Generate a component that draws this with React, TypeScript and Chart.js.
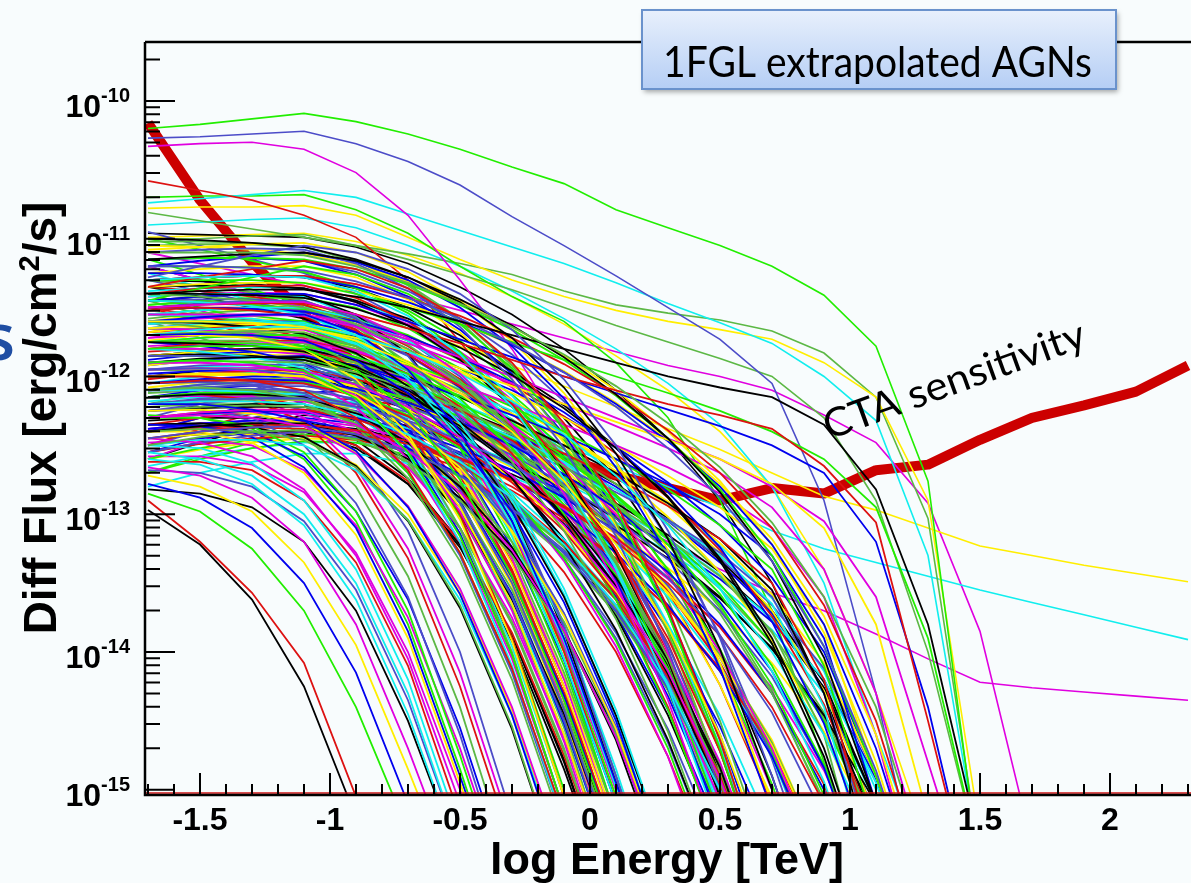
import React, { useEffect, useRef } from 'react';
import { Chart, registerables } from 'chart.js';
Chart.register(...registerables);

// log Energy [TeV] grid on which every spectrum is sampled
const xGrid = [-1.7, -1.5, -1.3, -1.1, -0.9, -0.7, -0.5, -0.3, -0.1, 0.1, 0.3, 0.5, 0.7, 0.9, 1.1, 1.3, 1.5, 1.7, 1.9, 2.1, 2.3];

// CTA sensitivity, log10 flux
const ctaSensitivity = [-10.16, -10.72, -11.17, -11.55, -11.92, -12.17, -12.35, -12.46, -12.59, -12.72, -12.81, -12.9, -12.81, -12.85, -12.68, -12.64, -12.46, -12.3, -12.21, -12.11, -11.92];

// extrapolated AGN spectra (log10 flux per grid point)
const spectraLowFlux = [
  [-12.97, -13.22, -13.62, -14.25, -15.2],
  [-12.9, -13.2, -13.57, -14.08, -15.05],
  [-12.85, -12.98, -13.25, -13.7, -14.4, -15.3],
  [-12.78, -12.88, -13.1, -13.5, -14.15, -15.1],
  [-12.72, -12.8, -12.98, -13.35, -13.95, -14.85, -15.8],
  [-12.66, -12.72, -12.88, -13.2, -13.8, -14.7, -15.7],
  [-12.6, -12.64, -12.78, -13.08, -13.62, -14.45, -15.5],
  [-12.55, -12.6, -12.72, -13.0, -13.5, -14.3, -15.4],
  [-12.5, -12.52, -12.63, -12.9, -13.4, -14.2, -15.3],
  [-12.45, -12.48, -12.58, -12.82, -13.3, -14.05, -15.1],
  [-12.4, -12.4, -12.48, -12.7, -13.15, -13.9, -14.95, -16],
  [-12.35, -12.36, -12.44, -12.66, -13.1, -13.85, -14.9, -16],
  [-12.3, -12.3, -12.36, -12.55, -12.98, -13.7, -14.75, -15.9],
  [-12.62, -12.62, -12.68, -12.9, -13.35, -14.1, -15.2],
  [-12.82, -12.85, -12.95, -13.2, -13.7, -14.5, -15.5],
  [-12.25, -12.24, -12.3, -12.5, -12.92, -13.6, -14.6, -15.8],
  [-12.2, -12.2, -12.25, -12.42, -12.8, -13.45, -14.4, -15.6],
  [-12.48, -12.46, -12.5, -12.68, -13.08, -13.75, -14.7, -15.8],
  [-12.38, -12.36, -12.4, -12.58, -12.98, -13.62, -14.55, -15.7],
  [-12.15, -12.13, -12.17, -12.33, -12.7, -13.32, -14.25, -15.4],
  [-12.68, -12.7, -12.8, -13.05, -13.55, -14.35, -15.4],
  [-12.1, -12.1, -12.14, -12.3, -12.66, -13.25, -14.15, -15.3],
  [-12.28, -12.3, -12.38, -12.6, -13.05, -13.8, -14.85, -16],
  [-12.05, -12.03, -12.06, -12.2, -12.55, -13.12, -14.0, -15.2],
  [-12.58, -12.58, -12.64, -12.84, -13.28, -14.0, -15.0, -16],
];

const spectraEarlyCut = [
  [-12.0, -12.0, -12.03, -12.1, -12.3, -12.68, -13.28, -14.12, -15.2],
  [-11.9, -11.88, -11.9, -11.96, -12.16, -12.55, -13.16, -14.02, -15.15],
  [-12.2, -12.2, -12.24, -12.32, -12.54, -12.95, -13.58, -14.46, -15.6],
  [-11.7, -11.7, -11.72, -11.8, -12.02, -12.42, -13.04, -13.92, -15.05],
  [-12.3, -12.28, -12.3, -12.36, -12.56, -12.94, -13.54, -14.4, -15.5],
  [-11.8, -11.82, -11.86, -11.94, -12.16, -12.56, -13.2, -14.1, -15.25],
  [-12.1, -12.08, -12.1, -12.16, -12.36, -12.74, -13.34, -14.2, -15.3],
  [-12.4, -12.38, -12.4, -12.46, -12.66, -13.04, -13.66, -14.54, -15.7],
  [-11.6, -11.64, -11.7, -11.8, -12.04, -12.46, -13.1, -14.0, -15.15],
  [-12.5, -12.46, -12.46, -12.5, -12.68, -13.04, -13.62, -14.46, -15.55],
  [-11.95, -11.94, -11.96, -12.02, -12.22, -12.6, -13.2, -14.05, -15.15],
  [-12.25, -12.24, -12.27, -12.34, -12.55, -12.94, -13.55, -14.42, -15.55],
  [-11.75, -11.78, -11.82, -11.9, -12.12, -12.52, -13.14, -14.02, -15.15],
  [-12.15, -12.12, -12.12, -12.16, -12.34, -12.7, -13.28, -14.12, -15.2],
  [-11.5, -11.56, -11.63, -11.72, -11.95, -12.36, -13.0, -13.9, -15.05],
  [-12.35, -12.34, -12.37, -12.44, -12.65, -13.05, -13.68, -14.56, -15.7],
  [-12.05, -12.04, -12.06, -12.12, -12.32, -12.7, -13.3, -14.15, -15.25],
  [-11.85, -11.84, -11.86, -11.92, -12.12, -12.5, -13.1, -13.96, -15.05],
  [-12.45, -12.42, -12.42, -12.46, -12.64, -13.0, -13.58, -14.42, -15.5],
  [-11.65, -11.66, -11.7, -11.78, -12.0, -12.4, -13.02, -13.9, -15.0],
];

const spectraMid = [
  [-11.8, -11.78, -11.78, -11.8, -11.95, -12.25, -12.75, -13.45, -14.35, -15.4],
  [-11.6, -11.57, -11.55, -11.55, -11.68, -11.95, -12.4, -13.05, -13.9, -14.95, -16],
  [-12.0, -11.98, -11.98, -12.0, -12.15, -12.45, -12.95, -13.65, -14.6, -15.7],
  [-11.9, -11.9, -11.92, -11.97, -12.14, -12.46, -12.98, -13.7, -14.65, -15.8],
  [-11.7, -11.66, -11.64, -11.64, -11.76, -12.02, -12.45, -13.08, -13.92, -14.98, -16],
  [-12.2, -12.18, -12.18, -12.2, -12.34, -12.62, -13.1, -13.8, -14.72, -15.8],
  [-11.5, -11.47, -11.45, -11.45, -11.58, -11.85, -12.3, -12.95, -13.82, -14.9, -16],
  [-12.1, -12.06, -12.04, -12.05, -12.18, -12.46, -12.92, -13.6, -14.5, -15.6],
  [-11.95, -11.92, -11.91, -11.92, -12.06, -12.35, -12.82, -13.5, -14.42, -15.5],
  [-11.75, -11.74, -11.74, -11.76, -11.9, -12.18, -12.62, -13.28, -14.15, -15.2],
  [-11.65, -11.62, -11.6, -11.61, -11.74, -12.0, -12.42, -13.02, -13.82, -14.85, -16],
  [-12.3, -12.27, -12.26, -12.27, -12.4, -12.66, -13.1, -13.75, -14.62, -15.7],
  [-11.85, -11.82, -11.81, -11.82, -11.96, -12.24, -12.7, -13.36, -14.25, -15.3],
  [-12.05, -12.02, -12.0, -12.0, -12.12, -12.38, -12.82, -13.46, -14.32, -15.4],
  [-11.55, -11.55, -11.56, -11.6, -11.75, -12.05, -12.52, -13.2, -14.1, -15.2],
  [-12.4, -12.38, -12.37, -12.38, -12.5, -12.76, -13.2, -13.86, -14.75, -15.8],
  [-11.45, -11.42, -11.4, -11.41, -11.55, -11.84, -12.3, -12.96, -13.85, -14.95, -16],
  [-12.15, -12.12, -12.1, -12.1, -12.22, -12.48, -12.92, -13.55, -14.4, -15.45],
  [-11.72, -11.68, -11.66, -11.66, -11.78, -12.04, -12.48, -13.1, -13.95, -15.0, -16],
  [-11.98, -11.96, -11.96, -11.98, -12.12, -12.42, -12.9, -13.6, -14.52, -15.6],
  [-12.25, -12.22, -12.2, -12.2, -12.32, -12.58, -13.0, -13.62, -14.45, -15.5],
  [-11.62, -11.6, -11.6, -11.62, -11.76, -12.04, -12.5, -13.16, -14.05, -15.1],
  [-11.88, -11.84, -11.82, -11.82, -11.94, -12.2, -12.62, -13.24, -14.06, -15.1],
  [-12.35, -12.34, -12.34, -12.36, -12.5, -12.78, -13.24, -13.92, -14.85, -15.9],
  [-11.42, -11.4, -11.4, -11.42, -11.56, -11.85, -12.32, -13.0, -13.9, -15.0, -16],
  [-12.02, -11.98, -11.96, -11.96, -12.08, -12.34, -12.78, -13.42, -14.3, -15.35],
  [-11.78, -11.76, -11.76, -11.78, -11.92, -12.2, -12.66, -13.32, -14.2, -15.3],
  [-12.45, -12.42, -12.4, -12.4, -12.52, -12.78, -13.22, -13.88, -14.78, -15.9],
  [-11.68, -11.64, -11.62, -11.62, -11.74, -12.0, -12.44, -13.08, -13.94, -15.0, -16],
  [-12.12, -12.1, -12.1, -12.12, -12.26, -12.54, -13.0, -13.68, -14.6, -15.7],
  [-11.52, -11.5, -11.5, -11.52, -11.66, -11.95, -12.42, -13.1, -14.0, -15.1],
  [-11.92, -11.88, -11.86, -11.86, -11.98, -12.24, -12.68, -13.32, -14.18, -15.25],
  [-12.22, -12.2, -12.2, -12.22, -12.36, -12.64, -13.1, -13.78, -14.7, -15.8],
  [-11.82, -11.8, -11.8, -11.82, -11.96, -12.25, -12.72, -13.4, -14.3, -15.4],
  [-12.08, -12.04, -12.02, -12.02, -12.14, -12.4, -12.84, -13.48, -14.35, -15.4],
  [-11.58, -11.54, -11.52, -11.52, -11.64, -11.9, -12.34, -12.98, -13.84, -14.9, -16],
  [-12.32, -12.3, -12.3, -12.32, -12.46, -12.74, -13.2, -13.88, -14.8, -15.9],
  [-11.48, -11.46, -11.46, -11.48, -11.62, -11.92, -12.4, -13.08, -13.98, -15.05],
  [-11.74, -11.7, -11.68, -11.68, -11.8, -12.06, -12.5, -13.14, -14.0, -15.05],
  [-12.18, -12.15, -12.14, -12.15, -12.28, -12.55, -13.0, -13.65, -14.52, -15.6],
  [-11.3, -11.38, -11.46, -11.54, -11.7, -11.95, -12.35, -12.95, -13.8, -14.9, -16],
  [-11.5, -11.6, -11.7, -11.8, -11.98, -12.26, -12.7, -13.35, -14.25, -15.4],
  [-11.2, -11.3, -11.4, -11.5, -11.68, -11.96, -12.4, -13.05, -13.95, -15.1],
  [-11.4, -11.52, -11.64, -11.76, -11.95, -12.25, -12.72, -13.42, -14.4, -15.6],
  [-11.6, -11.72, -11.84, -11.96, -12.15, -12.45, -12.92, -13.6, -14.55, -15.7],
  [-11.35, -11.42, -11.5, -11.58, -11.74, -12.0, -12.42, -13.05, -13.92, -15.0, -16],
  [-11.15, -11.26, -11.37, -11.48, -11.66, -11.95, -12.42, -13.1, -14.05, -15.2],
  [-11.65, -11.75, -11.85, -11.95, -12.12, -12.4, -12.85, -13.52, -14.45, -15.6],
  [-11.25, -11.35, -11.45, -11.55, -11.72, -12.0, -12.45, -13.12, -14.05, -15.2],
  [-11.45, -11.55, -11.65, -11.75, -11.92, -12.2, -12.65, -13.32, -14.25, -15.4],
  [-12.5, -12.4, -12.3, -12.22, -12.25, -12.45, -12.85, -13.5, -14.4, -15.5],
  [-12.6, -12.48, -12.37, -12.28, -12.3, -12.48, -12.86, -13.48, -14.35, -15.45],
  [-12.4, -12.3, -12.22, -12.15, -12.2, -12.4, -12.8, -13.42, -14.3, -15.4],
  [-12.7, -12.58, -12.48, -12.4, -12.42, -12.6, -12.98, -13.6, -14.5, -15.6],
  [-12.55, -12.45, -12.36, -12.3, -12.34, -12.54, -12.95, -13.58, -14.48, -15.6],
];

const spectraBright = [
  [-11.5, -11.48, -11.46, -11.46, -11.55, -11.72, -11.98, -12.35, -12.85, -13.5, -14.35, -15.4],
  [-11.3, -11.28, -11.27, -11.28, -11.38, -11.56, -11.84, -12.22, -12.74, -13.4, -14.25, -15.3],
  [-11.7, -11.68, -11.67, -11.68, -11.78, -11.96, -12.24, -12.62, -13.12, -13.76, -14.58, -15.6],
  [-11.1, -11.08, -11.07, -11.08, -11.18, -11.36, -11.64, -12.02, -12.52, -13.16, -13.98, -15.0, -16],
  [-11.9, -11.87, -11.86, -11.86, -11.95, -12.12, -12.38, -12.74, -13.22, -13.84, -14.64, -15.6],
  [-11.4, -11.36, -11.34, -11.34, -11.43, -11.6, -11.85, -12.2, -12.66, -13.26, -14.04, -15.0, -16],
  [-11.6, -11.6, -11.6, -11.62, -11.72, -11.9, -12.16, -12.52, -13.0, -13.62, -14.42, -15.4],
  [-12.1, -12.06, -12.04, -12.04, -12.12, -12.28, -12.52, -12.86, -13.32, -13.92, -14.7, -15.7],
  [-11.2, -11.2, -11.21, -11.24, -11.35, -11.54, -11.82, -12.2, -12.7, -13.34, -14.16, -15.2],
  [-11.8, -11.76, -11.74, -11.74, -11.82, -11.98, -12.22, -12.56, -13.02, -13.62, -14.4, -15.4],
  [-11.35, -11.34, -11.34, -11.36, -11.46, -11.63, -11.88, -12.22, -12.68, -13.28, -14.06, -15.05],
  [-12.25, -12.2, -12.16, -12.14, -12.2, -12.34, -12.56, -12.88, -13.32, -13.9, -14.66, -15.6],
  [-11.05, -11.04, -11.04, -11.06, -11.16, -11.34, -11.6, -11.96, -12.44, -13.06, -13.86, -14.86, -16],
  [-11.55, -11.52, -11.5, -11.5, -11.58, -11.74, -11.98, -12.32, -12.78, -13.38, -14.16, -15.15],
  [-11.95, -11.94, -11.94, -11.96, -12.06, -12.24, -12.5, -12.86, -13.34, -13.96, -14.76, -15.8],
  [-11.25, -11.22, -11.2, -11.2, -11.28, -11.44, -11.68, -12.02, -12.48, -13.08, -13.86, -14.86, -16],
  [-11.65, -11.62, -11.6, -11.6, -11.68, -11.84, -12.08, -12.42, -12.88, -13.48, -14.26, -15.25],
  [-12.35, -12.3, -12.26, -12.24, -12.3, -12.44, -12.66, -12.98, -13.42, -14.0, -14.76, -15.7],
  [-11.45, -11.44, -11.44, -11.46, -11.56, -11.74, -12.0, -12.36, -12.84, -13.46, -14.26, -15.25],
  [-11.75, -11.72, -11.7, -11.7, -11.78, -11.94, -12.18, -12.5, -12.94, -13.5, -14.22, -15.1],
  [-11.15, -11.14, -11.14, -11.16, -11.26, -11.42, -11.66, -11.98, -12.42, -12.98, -13.7, -14.6, -15.7],
  [-12.0, -11.96, -11.94, -11.94, -12.02, -12.18, -12.42, -12.74, -13.18, -13.74, -14.46, -15.35],
  [-11.38, -11.36, -11.35, -11.36, -11.45, -11.6, -11.83, -12.14, -12.56, -13.1, -13.8, -14.68, -15.8],
  [-11.85, -11.82, -11.8, -11.8, -11.88, -12.04, -12.28, -12.6, -13.04, -13.6, -14.32, -15.2],
  [-11.62, -11.6, -11.59, -11.6, -11.69, -11.85, -12.08, -12.4, -12.82, -13.36, -14.06, -14.94, -16],
  [-12.15, -12.1, -12.06, -12.04, -12.1, -12.24, -12.46, -12.76, -13.18, -13.72, -14.42, -15.3],
  [-11.02, -11.02, -11.03, -11.06, -11.16, -11.33, -11.58, -11.92, -12.36, -12.92, -13.62, -14.5, -15.6],
  [-11.48, -11.45, -11.43, -11.43, -11.5, -11.65, -11.87, -12.18, -12.6, -13.14, -13.84, -14.72, -15.8],
  [-11.72, -11.7, -11.7, -11.72, -11.82, -11.98, -12.22, -12.54, -12.98, -13.54, -14.26, -15.15],
  [-12.2, -12.16, -12.14, -12.14, -12.22, -12.38, -12.6, -12.9, -13.32, -13.86, -14.56, -15.45],
  [-11.0, -11.08, -11.16, -11.24, -11.36, -11.52, -11.74, -12.04, -12.46, -13.0, -13.72, -14.64, -15.8],
  [-11.2, -11.3, -11.4, -11.5, -11.64, -11.82, -12.06, -12.38, -12.8, -13.36, -14.08, -15.0, -16],
  [-10.95, -11.05, -11.15, -11.25, -11.4, -11.6, -11.86, -12.2, -12.66, -13.26, -14.04, -15.05],
  [-11.4, -11.5, -11.6, -11.7, -11.84, -12.02, -12.26, -12.58, -13.0, -13.56, -14.28, -15.2],
  [-11.1, -11.18, -11.26, -11.34, -11.46, -11.63, -11.86, -12.17, -12.58, -13.12, -13.82, -14.72, -15.8],
  [-12.3, -12.2, -12.1, -12.02, -12.02, -12.1, -12.26, -12.52, -12.9, -13.42, -14.12, -15.0, -16],
  [-12.5, -12.38, -12.27, -12.18, -12.16, -12.22, -12.36, -12.6, -12.96, -13.46, -14.14, -15.0, -16],
  [-12.4, -12.3, -12.2, -12.12, -12.1, -12.16, -12.3, -12.54, -12.9, -13.4, -14.08, -14.96, -16],
  [-12.6, -12.47, -12.35, -12.25, -12.22, -12.28, -12.42, -12.66, -13.02, -13.52, -14.2, -15.08],
  [-12.2, -12.12, -12.04, -11.97, -11.98, -12.06, -12.22, -12.48, -12.86, -13.38, -14.08, -14.98, -16],
  [-11.3, -11.28, -11.27, -11.28, -11.36, -11.5, -11.7, -11.96, -12.3, -12.74, -13.3, -14.0, -14.9, -16],
  [-11.55, -11.52, -11.5, -11.5, -11.57, -11.7, -11.88, -12.13, -12.46, -12.88, -13.42, -14.1, -14.96, -16],
  [-11.8, -11.76, -11.74, -11.74, -11.8, -11.92, -12.1, -12.34, -12.66, -13.06, -13.58, -14.24, -15.06],
  [-12.05, -12.0, -11.97, -11.96, -12.02, -12.14, -12.32, -12.56, -12.88, -13.28, -13.8, -14.46, -15.3],
  [-11.15, -11.14, -11.14, -11.16, -11.24, -11.38, -11.58, -11.84, -12.18, -12.62, -13.18, -13.88, -14.78, -15.9],
  [-11.68, -11.65, -11.63, -11.63, -11.7, -11.83, -12.02, -12.27, -12.6, -13.02, -13.56, -14.24, -15.1],
  [-11.92, -11.88, -11.86, -11.86, -11.92, -12.05, -12.24, -12.5, -12.84, -13.28, -13.84, -14.54, -15.4],
  [-11.42, -11.4, -11.39, -11.4, -11.48, -11.62, -11.82, -12.08, -12.42, -12.86, -13.42, -14.12, -15.0, -16],
];

const spectraSlowCut = [
  [-11.6, -11.6, -11.61, -11.64, -11.74, -11.9, -12.12, -12.4, -12.76, -13.22, -13.82, -14.6, -15.6],
  [-11.9, -11.9, -11.92, -11.96, -12.06, -12.22, -12.44, -12.72, -13.08, -13.54, -14.14, -14.92, -15.9],
  [-12.2, -12.18, -12.18, -12.2, -12.28, -12.42, -12.62, -12.88, -13.22, -13.66, -14.24, -15.0, -16],
  [-11.4, -11.42, -11.45, -11.5, -11.62, -11.8, -12.05, -12.38, -12.8, -13.34, -14.04, -14.94, -16],
  [-12.45, -12.4, -12.37, -12.36, -12.42, -12.54, -12.72, -12.96, -13.28, -13.7, -14.26, -15.0, -16],
  [-11.75, -11.76, -11.78, -11.82, -11.93, -12.1, -12.33, -12.63, -13.02, -13.52, -14.16, -15.0, -16],
  [-12.05, -12.03, -12.03, -12.05, -12.14, -12.29, -12.5, -12.77, -13.12, -13.58, -14.18, -14.96, -16],
  [-11.5, -11.5, -11.52, -11.56, -11.67, -11.84, -12.07, -12.37, -12.76, -13.26, -13.9, -14.72, -15.8],
  [-12.3, -12.26, -12.24, -12.24, -12.31, -12.44, -12.63, -12.88, -13.2, -13.62, -14.18, -14.9, -15.9],
  [-11.85, -11.84, -11.85, -11.88, -11.98, -12.14, -12.36, -12.64, -13.0, -13.46, -14.06, -14.84, -15.9],
  [-12.55, -12.48, -12.43, -12.4, -12.44, -12.55, -12.72, -12.95, -13.26, -13.66, -14.2, -14.92, -15.9],
  [-11.3, -11.34, -11.39, -11.45, -11.58, -11.77, -12.03, -12.37, -12.8, -13.36, -14.08, -15.0, -16],
  [-12.1, -12.1, -12.11, -12.14, -12.23, -12.38, -12.58, -12.84, -13.18, -13.62, -14.2, -14.96, -16],
  [-11.65, -11.66, -11.69, -11.74, -11.86, -12.04, -12.28, -12.6, -13.0, -13.52, -14.2, -15.08],
  [-11.95, -11.94, -11.95, -11.98, -12.08, -12.24, -12.46, -12.74, -13.1, -13.56, -14.16, -14.94, -15.9],
  [-12.38, -12.34, -12.32, -12.32, -12.39, -12.52, -12.71, -12.96, -13.28, -13.7, -14.26, -14.98, -16],
  [-11.55, -11.57, -11.6, -11.65, -11.77, -11.95, -12.2, -12.52, -12.93, -13.45, -14.12, -14.98, -16],
  [-12.0, -11.98, -11.98, -12.0, -12.09, -12.24, -12.45, -12.72, -13.07, -13.52, -14.1, -14.86, -15.8],
  [-12.25, -12.22, -12.21, -12.22, -12.3, -12.44, -12.64, -12.9, -13.24, -13.68, -14.26, -15.02],
  [-11.8, -11.8, -11.81, -11.84, -11.94, -12.1, -12.32, -12.6, -12.96, -13.42, -14.02, -14.8, -15.8],
  [-12.6, -12.52, -12.46, -12.42, -12.45, -12.55, -12.71, -12.93, -13.23, -13.62, -14.14, -14.84, -15.8],
  [-11.45, -11.46, -11.48, -11.52, -11.63, -11.8, -12.04, -12.35, -12.75, -13.27, -13.95, -14.84, -15.9],
  [-12.15, -12.14, -12.15, -12.18, -12.27, -12.42, -12.62, -12.88, -13.22, -13.66, -14.24, -15.0, -16],
  [-11.7, -11.7, -11.72, -11.76, -11.87, -12.04, -12.27, -12.57, -12.95, -13.44, -14.08, -14.9, -15.9],
  [-12.4, -12.36, -12.34, -12.34, -12.41, -12.54, -12.73, -12.98, -13.3, -13.72, -14.28, -15.0, -16],
  [-12.7, -12.6, -12.52, -12.47, -12.48, -12.57, -12.72, -12.93, -13.22, -13.6, -14.12, -14.82, -15.8],
  [-12.8, -12.7, -12.62, -12.56, -12.56, -12.63, -12.77, -12.98, -13.27, -13.66, -14.2, -14.92, -15.9],
  [-11.35, -11.38, -11.42, -11.48, -11.6, -11.78, -12.02, -12.34, -12.74, -13.26, -13.94, -14.82, -15.9],
];

const spectraMidCut = [
  [-11.7, -11.69, -11.7, -11.74, -11.88, -12.12, -12.48, -12.98, -13.64, -14.5, -15.6],
  [-12.0, -11.98, -11.98, -12.0, -12.12, -12.34, -12.66, -13.12, -13.74, -14.56, -15.6],
  [-12.3, -12.26, -12.24, -12.25, -12.35, -12.54, -12.84, -13.26, -13.84, -14.62, -15.6],
  [-11.45, -11.46, -11.49, -11.55, -11.7, -11.96, -12.34, -12.86, -13.54, -14.42, -15.5],
  [-12.5, -12.44, -12.4, -12.39, -12.46, -12.62, -12.9, -13.3, -13.86, -14.6, -15.6],
  [-11.85, -11.85, -11.86, -11.9, -12.03, -12.26, -12.6, -13.08, -13.72, -14.58, -15.7],
  [-12.15, -12.13, -12.13, -12.15, -12.27, -12.48, -12.8, -13.24, -13.84, -14.64, -15.7],
  [-11.6, -11.61, -11.64, -11.69, -11.83, -12.07, -12.43, -12.93, -13.6, -14.46, -15.5],
  [-12.4, -12.36, -12.34, -12.34, -12.43, -12.6, -12.88, -13.28, -13.84, -14.58, -15.6],
  [-11.95, -11.94, -11.95, -11.99, -12.11, -12.32, -12.64, -13.1, -13.72, -14.54, -15.6],
  [-12.2, -12.17, -12.16, -12.17, -12.28, -12.48, -12.78, -13.2, -13.78, -14.56, -15.6],
  [-11.55, -11.56, -11.58, -11.63, -11.77, -12.02, -12.38, -12.9, -13.58, -14.48, -15.6],
  [-11.7, -11.7, -11.71, -11.73, -11.81, -11.94, -12.12, -12.35, -12.64, -13.0, -13.44, -14.0, -14.7, -15.6],
  [-12.0, -11.99, -11.99, -12.0, -12.07, -12.19, -12.35, -12.56, -12.82, -13.14, -13.54, -14.04, -14.68, -15.5],
  [-12.3, -12.27, -12.26, -12.26, -12.31, -12.41, -12.55, -12.74, -12.98, -13.28, -13.66, -14.14, -14.76, -15.6],
  [-11.45, -11.46, -11.48, -11.51, -11.6, -11.74, -11.94, -12.2, -12.52, -12.92, -13.4, -13.98, -14.72, -15.7],
  [-12.55, -12.49, -12.45, -12.43, -12.46, -12.54, -12.66, -12.83, -13.05, -13.33, -13.68, -14.12, -14.7, -15.5],
  [-11.85, -11.85, -11.86, -11.88, -11.96, -12.09, -12.26, -12.48, -12.76, -13.1, -13.52, -14.04, -14.74, -15.7],
  [-12.15, -12.13, -12.12, -12.13, -12.19, -12.3, -12.45, -12.65, -12.9, -13.21, -13.6, -14.1, -14.76, -15.7],
  [-11.6, -11.61, -11.63, -11.66, -11.75, -11.89, -12.08, -12.32, -12.62, -12.99, -13.44, -14.0, -14.72, -15.7],
  [-12.4, -12.37, -12.35, -12.35, -12.4, -12.49, -12.62, -12.8, -13.03, -13.32, -13.68, -14.14, -14.74, -15.6],
  [-11.95, -11.95, -11.96, -11.98, -12.05, -12.17, -12.33, -12.54, -12.8, -13.12, -13.52, -14.02, -14.66, -15.5],
  [-12.2, -12.18, -12.17, -12.17, -12.23, -12.33, -12.47, -12.66, -12.9, -13.2, -13.57, -14.04, -14.64, -15.5],
  [-11.75, -11.76, -11.78, -11.81, -11.9, -12.04, -12.23, -12.47, -12.77, -13.13, -13.56, -14.08, -14.74, -15.7],
];

const spectraBrightSlow = [
  [-11.1, -11.1, -11.1, -11.12, -11.2, -11.32, -11.47, -11.64, -11.84, -12.07, -12.34, -12.66, -13.06, -13.6, -14.4, -15.6],
  [-11.2, -11.2, -11.21, -11.23, -11.31, -11.43, -11.58, -11.76, -11.97, -12.22, -12.52, -12.88, -13.34, -13.96, -14.86, -16],
  [-11.0, -11.01, -11.03, -11.06, -11.15, -11.28, -11.44, -11.63, -11.86, -12.13, -12.45, -12.84, -13.34, -14.04, -15.1],
  [-11.3, -11.28, -11.27, -11.27, -11.33, -11.43, -11.56, -11.72, -11.91, -12.13, -12.39, -12.7, -13.1, -13.66, -14.5, -15.7],
  [-11.15, -11.14, -11.14, -11.15, -11.22, -11.33, -11.48, -11.66, -11.88, -12.14, -12.45, -12.82, -13.3, -13.96, -14.9, -16],
  [-11.25, -11.25, -11.26, -11.28, -11.35, -11.46, -11.6, -11.77, -11.97, -12.2, -12.47, -12.8, -13.22, -13.8, -14.7, -15.9],
  [-11.05, -11.06, -11.08, -11.11, -11.19, -11.31, -11.46, -11.64, -11.85, -12.1, -12.4, -12.76, -13.22, -13.86, -14.8, -16],
  [-11.35, -11.33, -11.32, -11.32, -11.38, -11.48, -11.61, -11.77, -11.96, -12.19, -12.46, -12.78, -13.18, -13.74, -14.6, -15.8],
];

const spectraVeryLateCut = [
  [-11.6, -11.6, -11.6, -11.62, -11.7, -11.82, -11.98, -12.18, -12.42, -12.72, -13.08, -13.54, -14.14, -14.94, -16],
  [-11.9, -11.89, -11.89, -11.9, -11.97, -12.08, -12.23, -12.42, -12.65, -12.93, -13.28, -13.72, -14.3, -15.08],
  [-12.2, -12.17, -12.16, -12.16, -12.22, -12.32, -12.46, -12.64, -12.86, -13.13, -13.46, -13.88, -14.44, -15.2],
  [-11.4, -11.4, -11.41, -11.43, -11.51, -11.63, -11.79, -11.99, -12.23, -12.52, -12.88, -13.34, -13.94, -14.76, -15.9],
  [-12.45, -12.4, -12.37, -12.35, -12.39, -12.47, -12.59, -12.75, -12.95, -13.2, -13.5, -13.88, -14.4, -15.1],
  [-11.75, -11.75, -11.76, -11.78, -11.86, -11.98, -12.14, -12.34, -12.58, -12.87, -13.22, -13.66, -14.24, -15.04],
  [-12.05, -12.03, -12.02, -12.03, -12.09, -12.19, -12.33, -12.5, -12.71, -12.96, -13.26, -13.64, -14.14, -14.84, -15.9],
  [-11.5, -11.5, -11.51, -11.53, -11.6, -11.71, -11.86, -12.04, -12.26, -12.52, -12.84, -13.24, -13.78, -14.52, -15.6],
  [-12.3, -12.27, -12.25, -12.25, -12.3, -12.39, -12.52, -12.68, -12.88, -13.12, -13.42, -13.8, -14.3, -15.0, -16],
  [-11.85, -11.85, -11.86, -11.88, -11.95, -12.06, -12.2, -12.38, -12.6, -12.86, -13.18, -13.58, -14.1, -14.82, -15.9],
  [-12.55, -12.48, -12.43, -12.4, -12.42, -12.49, -12.6, -12.75, -12.94, -13.17, -13.46, -13.82, -14.3, -14.96, -16],
  [-11.3, -11.31, -11.33, -11.36, -11.45, -11.58, -11.75, -11.96, -12.21, -12.51, -12.87, -13.32, -13.9, -14.7, -15.8],
  [-12.1, -12.09, -12.09, -12.1, -12.16, -12.26, -12.4, -12.57, -12.78, -13.03, -13.33, -13.7, -14.18, -14.84, -15.8],
  [-11.65, -11.66, -11.68, -11.71, -11.8, -11.93, -12.1, -12.31, -12.56, -12.86, -13.22, -13.68, -14.28, -15.1],
  [-11.95, -11.94, -11.94, -11.95, -12.01, -12.11, -12.25, -12.42, -12.63, -12.88, -13.18, -13.54, -14.0, -14.6, -15.4],
  [-12.38, -12.34, -12.32, -12.31, -12.36, -12.45, -12.58, -12.74, -12.94, -13.18, -13.47, -13.82, -14.26, -14.86, -15.7],
  [-11.55, -11.56, -11.58, -11.61, -11.69, -11.81, -11.97, -12.17, -12.41, -12.69, -13.02, -13.42, -13.92, -14.58, -15.5],
  [-12.0, -11.99, -11.99, -12.0, -12.06, -12.16, -12.29, -12.45, -12.65, -12.89, -13.17, -13.51, -13.94, -14.5, -15.3],
  [-12.25, -12.23, -12.22, -12.22, -12.27, -12.36, -12.48, -12.63, -12.81, -13.03, -13.29, -13.6, -13.98, -14.46, -15.1],
  [-11.8, -11.8, -11.81, -11.83, -11.9, -12.01, -12.15, -12.32, -12.53, -12.78, -13.07, -13.42, -13.86, -14.44, -15.3],
  [-12.6, -12.53, -12.48, -12.45, -12.46, -12.52, -12.62, -12.76, -12.93, -13.14, -13.39, -13.7, -14.08, -14.58, -15.3],
  [-11.45, -11.46, -11.48, -11.51, -11.59, -11.71, -11.87, -12.06, -12.29, -12.56, -12.88, -13.26, -13.74, -14.38, -15.3],
  [-12.15, -12.14, -12.14, -12.15, -12.2, -12.29, -12.41, -12.56, -12.74, -12.96, -13.22, -13.54, -13.94, -14.48, -15.3],
  [-11.7, -11.7, -11.71, -11.73, -11.8, -11.91, -12.05, -12.22, -12.42, -12.66, -12.94, -13.28, -13.7, -14.28, -15.2],
  [-12.4, -12.37, -12.35, -12.34, -12.38, -12.46, -12.57, -12.71, -12.88, -13.08, -13.32, -13.61, -13.97, -14.45, -15.2],
  [-11.85, -11.84, -11.84, -11.85, -11.91, -12.0, -12.12, -12.27, -12.45, -12.66, -12.91, -13.21, -13.58, -14.08, -14.9, -16],
  [-12.1, -12.08, -12.07, -12.07, -12.12, -12.2, -12.31, -12.45, -12.62, -12.82, -13.05, -13.32, -13.66, -14.12, -14.9, -16],
  [-11.6, -11.61, -11.62, -11.64, -11.71, -11.81, -11.94, -12.1, -12.29, -12.51, -12.77, -13.08, -13.46, -14.0, -14.9, -16],
  [-12.3, -12.28, -12.27, -12.27, -12.31, -12.38, -12.48, -12.61, -12.77, -12.96, -13.18, -13.44, -13.76, -14.2, -14.95, -16],
  [-11.95, -11.95, -11.96, -11.97, -12.03, -12.12, -12.24, -12.39, -12.57, -12.78, -13.03, -13.33, -13.7, -14.22, -15.1],
  [-12.5, -12.45, -12.41, -12.39, -12.41, -12.47, -12.56, -12.68, -12.83, -13.01, -13.22, -13.47, -13.78, -14.2, -14.92, -16],
  [-11.75, -11.76, -11.77, -11.79, -11.86, -11.96, -12.09, -12.25, -12.44, -12.66, -12.92, -13.23, -13.61, -14.14, -15.0],
  [-12.2, -12.18, -12.17, -12.17, -12.22, -12.3, -12.41, -12.55, -12.72, -12.92, -13.15, -13.42, -13.76, -14.26, -15.1],
  [-12.0, -11.99, -11.99, -12.0, -12.05, -12.14, -12.26, -12.41, -12.59, -12.8, -13.05, -13.35, -13.72, -14.26, -15.2],
  [-12.65, -12.58, -12.52, -12.48, -12.48, -12.53, -12.61, -12.73, -12.88, -13.06, -13.27, -13.52, -13.84, -14.3, -15.1],
];

const spectraHard = [
  [-11.28, -11.2, -11.12, -11.05, -11.1, -11.22, -11.4, -11.66, -12.02, -12.5, -13.12, -13.9, -14.9, -16],
  [-11.15, -11.13, -11.11, -11.1, -11.16, -11.28, -11.46, -11.72, -12.08, -12.56, -13.18, -13.98, -15.0],
  [-11.35, -11.28, -11.22, -11.16, -11.22, -11.36, -11.58, -11.9, -12.34, -12.92, -13.68, -14.64, -15.8],
  [-11.45, -11.36, -11.28, -11.2, -11.26, -11.4, -11.62, -11.94, -12.38, -12.96, -13.72, -14.7, -15.9],
  [-11.2, -11.16, -11.13, -11.1, -11.17, -11.3, -11.5, -11.78, -12.16, -12.66, -13.3, -14.12, -15.15],
  [-11.08, -11.06, -11.04, -11.03, -11.1, -11.24, -11.45, -11.74, -12.12, -12.62, -13.26, -14.08, -15.1],
];

const spectraLateCut = [
  [-11.4, -11.38, -11.37, -11.37, -11.42, -11.5, -11.6, -11.7, -11.8, -11.9, -12.0, -12.08, -12.15, -12.35, -12.82, -13.8, -15.4],
  [-11.5, -11.48, -11.47, -11.47, -11.55, -11.65, -11.76, -11.88, -12.0, -12.1, -12.2, -12.28, -12.38, -12.65, -13.06, -14.5, -16],
  [-11.3, -11.3, -11.3, -11.32, -11.4, -11.5, -11.62, -11.75, -11.88, -12.0, -12.12, -12.25, -12.4, -12.6, -12.95, -13.9, -15.5],
  [-11.45, -11.42, -11.4, -11.4, -11.48, -11.6, -11.73, -11.86, -12.0, -12.12, -12.24, -12.36, -12.5, -12.7, -13.2, -14.4, -16],
  [-11.7, -11.68, -11.66, -11.65, -11.72, -11.82, -11.94, -12.07, -12.2, -12.33, -12.46, -12.6, -12.78, -13.1, -13.8, -15.2],
  [-11.6, -11.58, -11.56, -11.55, -11.62, -11.73, -11.86, -12.0, -12.15, -12.3, -12.45, -12.6, -12.8, -13.05, -13.6, -14.8, -16],
  [-11.55, -11.55, -11.55, -11.56, -11.64, -11.76, -11.9, -12.05, -12.2, -12.36, -12.52, -12.7, -12.95, -13.4, -14.3, -15.6],
  [-11.8, -11.78, -11.76, -11.75, -11.82, -11.93, -12.06, -12.2, -12.35, -12.5, -12.66, -12.85, -13.1, -13.6, -14.6, -16],
  [-11.65, -11.63, -11.62, -11.62, -11.7, -11.82, -11.96, -12.12, -12.3, -12.5, -12.72, -12.95, -13.25, -13.8, -14.9, -16],
  [-11.9, -11.88, -11.86, -11.85, -11.92, -12.02, -12.14, -12.28, -12.43, -12.6, -12.78, -13.0, -13.3, -13.9, -15.1],
  [-11.75, -11.72, -11.7, -11.7, -11.78, -11.9, -12.05, -12.22, -12.4, -12.6, -12.82, -13.08, -13.4, -14.1, -15.3],
  [-12.0, -11.98, -11.96, -11.95, -12.02, -12.12, -12.25, -12.4, -12.56, -12.74, -12.94, -13.18, -13.5, -14.2, -15.5],
  [-11.85, -11.82, -11.8, -11.8, -11.88, -12.0, -12.15, -12.32, -12.5, -12.7, -12.92, -13.18, -13.55, -14.3, -15.6],
  [-12.1, -12.08, -12.06, -12.05, -12.12, -12.22, -12.35, -12.5, -12.66, -12.84, -13.04, -13.28, -13.6, -14.3, -15.5],
  [-12.05, -12.03, -12.02, -12.02, -12.1, -12.22, -12.37, -12.54, -12.73, -12.94, -13.18, -13.45, -13.85, -14.6, -16],
  [-11.95, -11.93, -11.92, -11.92, -12.0, -12.12, -12.27, -12.44, -12.62, -12.82, -13.04, -13.3, -13.65, -14.4, -15.8],
];

const spectraOutliers = [
  [-10.2, -10.17, -10.13, -10.09, -10.15, -10.24, -10.35, -10.48, -10.6, -10.79, -10.92, -11.05, -11.2, -11.41, -11.78, -12.76, -15.6],
  [-10.27, -10.26, -10.24, -10.22, -10.31, -10.44, -10.61, -10.84, -11.05, -11.27, -11.5, -11.73, -12.05, -12.9, -14.3, -16],
  [-10.33, -10.31, -10.3, -10.35, -10.52, -10.83, -11.3, -11.8, -12.4, -13.1, -14.0, -15.2],
  [-10.58, -10.65, -10.72, -10.83, -10.99, -11.3, -11.75, -12.2, -12.7, -13.3, -14.0, -14.9, -15.8],
  [-10.74, -10.71, -10.68, -10.65, -10.7, -10.82, -10.94, -11.06, -11.18, -11.32, -11.47, -11.61, -11.76, -12.0, -12.32, -13.3, -15.5],
  [-10.7, -10.69, -10.69, -10.68, -10.79, -10.96, -11.2, -11.42, -11.6, -11.9, -12.3, -12.9, -13.7, -14.8, -15.8],
  [-10.78, -10.77, -10.77, -10.76, -10.83, -10.99, -11.15, -11.3, -11.42, -11.52, -11.6, -11.66, -11.73, -11.9, -12.15, -12.9, -15.3],
  [-10.81, -10.87, -10.93, -10.99, -11.05, -11.11, -11.18, -11.26, -11.38, -11.48, -11.54, -11.59, -11.67, -11.83, -12.15, -13.03, -15.5],
  [-11.0, -11.0, -10.98, -10.97, -11.05, -11.15, -11.26, -11.37, -11.5, -11.63, -11.75, -11.87, -12.0, -12.3, -12.9, -14.0, -15.5],
  [-10.9, -10.88, -10.86, -10.85, -10.92, -11.05, -11.2, -11.38, -11.58, -11.8, -12.05, -12.35, -12.8, -13.5, -14.6, -15.6],
  [-10.96, -10.97, -10.98, -10.99, -11.06, -11.18, -11.35, -11.55, -11.8, -12.1, -12.45, -12.9, -13.5, -14.3, -15.3],
  [-10.99, -10.98, -10.97, -10.96, -11.02, -11.12, -11.25, -11.42, -11.62, -11.85, -12.1, -12.4, -12.8, -13.4, -14.3, -15.4],
  [-11.6, -11.55, -11.5, -11.48, -11.55, -11.65, -11.78, -11.92, -12.07, -12.22, -12.38, -12.53, -12.7, -12.87, -12.97, -13.1, -13.23, -13.3, -13.37, -13.43, -13.49],
  [-11.9, -11.88, -11.87, -11.87, -11.95, -12.05, -12.2, -12.35, -12.5, -12.65, -12.8, -12.95, -13.12, -13.25, -13.35, -13.45, -13.55, -13.64, -13.73, -13.82, -13.91],
  [-12.2, -12.18, -12.17, -12.17, -12.25, -12.36, -12.5, -12.65, -12.82, -13.0, -13.2, -13.4, -13.57, -13.7, -13.87, -14.05, -14.22, -14.26, -14.29, -14.32, -14.35],
  [-11.3, -11.28, -11.27, -11.27, -11.33, -11.42, -11.52, -11.62, -11.72, -11.82, -11.92, -12.0, -12.1, -12.28, -12.48, -12.92, -13.85, -15.4],
];
// palette index of each outlier spectrum
const outlierColorIndex = [2, 8, 5, 1, 6, 2, 4, 7, 7, 6, 0, 4, 4, 6, 5, 5];

// ROOT colour cycle 1..9
const palette = ['#000000', '#dd1111', '#22ee00', '#0000ee', '#ffee00', '#e000e0', '#11eeee', '#5cb845', '#4c4cc8'];

const xTickValues = [-1.5, -1, -0.5, 0, 0.5, 1, 1.5, 2];
const xTickLabels = ['-1.5', '-1', '-0.5', '0', '0.5', '1', '1.5', '2'];
const xLimits = [-1.7115, 2.3115];
const yLimitExponents = [-15.038, -9.572];

const BG = '#f8fcfd';
const FONT = '"Liberation Sans", Arial, sans-serif';

function toPoints(vals: number[]) {
  return vals.map((v, i) => ({ x: xGrid[i], y: Math.pow(10, v) }));
}

const decorPlugin = {
  id: 'decor',
  beforeDraw(chart: any) {
    const { ctx, width, height } = chart;
    ctx.save();
    ctx.fillStyle = BG;
    ctx.fillRect(0, 0, width, height);
    ctx.restore();
  },
  afterDatasetsDraw(chart: any) {
    const { ctx, chartArea: a } = chart;
    const xs = chart.scales.x;
    const ys = chart.scales.y;
    ctx.save();
    ctx.strokeStyle = '#d01515';
    ctx.lineWidth = 1.5;
    ctx.beginPath();
    ctx.moveTo(a.left, a.bottom - 2);
    ctx.lineTo(a.right, a.bottom - 2);
    ctx.stroke();
    ctx.strokeStyle = '#000';
    ctx.lineWidth = 2.5;
    ctx.beginPath();
    ctx.moveTo(a.left, a.top);
    ctx.lineTo(a.left, a.bottom);
    ctx.lineTo(a.right, a.bottom);
    ctx.moveTo(a.left, a.top);
    ctx.lineTo(a.right, a.top);
    ctx.stroke();
    ctx.lineWidth = 2;
    ctx.beginPath();
    const eMin = Math.floor(Math.log10(ys.min));
    const eMax = Math.ceil(Math.log10(ys.max));
    for (let e = eMin; e <= eMax; e++) {
      for (let m = 1; m <= 9; m++) {
        const v = m * Math.pow(10, e);
        if (v < ys.min || v > ys.max) continue;
        const py = ys.getPixelForValue(v);
        const len = m === 1 ? 30 : 15;
        ctx.moveTo(a.left, py);
        ctx.lineTo(a.left + len, py);
      }
    }
    for (let k = Math.ceil(xs.min * 10); k <= Math.floor(xs.max * 10); k++) {
      const px = xs.getPixelForValue(k / 10);
      const len = k % 5 === 0 ? 22 : 11;
      ctx.moveTo(px, a.bottom);
      ctx.lineTo(px, a.bottom - len);
    }
    ctx.stroke();
    ctx.restore();
  },
  afterDraw(chart: any) {
    const { ctx } = chart;
    const xs = chart.scales.x;
    const ys = chart.scales.y;
    ctx.save();
    ctx.fillStyle = '#000';
    const eLo = Math.ceil(Math.log10(ys.min));
    const eHi = Math.floor(Math.log10(ys.max));
    for (let e = eLo; e <= eHi; e++) {
      const py = ys.getPixelForValue(Math.pow(10, e));
      ctx.font = `bold 20px ${FONT}`;
      const sup = String(e);
      const ws = ctx.measureText(sup).width;
      ctx.textAlign = 'left';
      ctx.textBaseline = 'alphabetic';
      ctx.fillText(sup, 130 - ws, py + 1);
      ctx.font = `bold 32px ${FONT}`;
      const wb = ctx.measureText('10').width;
      ctx.fillText('10', 130 - ws - wb, py + 16);
    }
    ctx.font = `bold 32px ${FONT}`;
    ctx.textAlign = 'center';
    xTickValues.forEach((v, i) => {
      ctx.fillText(xTickLabels[i], xs.getPixelForValue(v), 830);
    });
    ctx.font = `bold 45px ${FONT}`;
    ctx.fillText('log Energy [TeV]', 667, 874);
    // y title with superscript
    ctx.save();
    ctx.translate(56, 418);
    ctx.rotate(-Math.PI / 2);
    const p1 = 'Diff Flux [erg/cm';
    const p2 = '2';
    const p3 = '/s]';
    ctx.font = `bold 46px ${FONT}`;
    const w1 = ctx.measureText(p1).width;
    const w3 = ctx.measureText(p3).width;
    ctx.font = `bold 29px ${FONT}`;
    const w2 = ctx.measureText(p2).width;
    let cx = -(w1 + w2 + w3) / 2;
    ctx.textAlign = 'left';
    ctx.font = `bold 46px ${FONT}`;
    ctx.fillText(p1, cx, 0);
    cx += w1;
    ctx.font = `bold 29px ${FONT}`;
    ctx.fillText(p2, cx, -17);
    cx += w2;
    ctx.font = `bold 46px ${FONT}`;
    ctx.fillText(p3, cx, 0);
    ctx.restore();

    // slide title box
    ctx.save();
    const bx = 642, by = 10, bw = 474, bh = 79;
    ctx.shadowColor = 'rgba(0,0,0,0.35)';
    ctx.shadowBlur = 5;
    ctx.shadowOffsetX = 2;
    ctx.shadowOffsetY = 3;
    const g = ctx.createLinearGradient(0, by, 0, by + bh);
    g.addColorStop(0, '#e8f0fc');
    g.addColorStop(1, '#b5cef5');
    ctx.fillStyle = g;
    ctx.fillRect(bx, by, bw, bh);
    ctx.shadowColor = 'transparent';
    ctx.strokeStyle = '#6a92cc';
    ctx.lineWidth = 2;
    ctx.strokeRect(bx, by, bw, bh);
    ctx.fillStyle = '#000';
    ctx.font = '43px Lato, "Open Sans", sans-serif';
    ctx.textAlign = 'left';
    const title = '1FGL extrapolated AGNs';
    const tw = ctx.measureText(title).width;
    ctx.translate(663, 77);
    ctx.scale(429 / tw, 1);
    ctx.fillText(title, 0, 0);
    ctx.restore();

    // CTA sensitivity label
    ctx.save();
    ctx.fillStyle = '#000';
    ctx.font = '40px Lato, "Open Sans", sans-serif';
    const lab = 'CTA sensitivity';
    const lw = ctx.measureText(lab).width;
    ctx.translate(829, 440);
    ctx.rotate(-20 * Math.PI / 180);
    ctx.scale(276 / lw, 1);
    ctx.textAlign = 'left';
    ctx.fillText(lab, 0, 0);
    ctx.restore();

    // fragment of slide text at the left edge
    ctx.save();
    ctx.fillStyle = '#1f4ea3';
    ctx.font = '600 66px "Open Sans", sans-serif';
    ctx.textAlign = 'left';
    ctx.fillText('s', -17, 360);
    ctx.restore();
    ctx.restore();
  },
};

export default function App() {
  const canvasRef = useRef<HTMLCanvasElement | null>(null);
  useEffect(() => {
    const groups = [spectraLowFlux, spectraEarlyCut, spectraMid, spectraMidCut, spectraSlowCut, spectraBright, spectraVeryLateCut, spectraBrightSlow, spectraHard, spectraLateCut];
    const bundle: number[][] = [];
    const maxLen = Math.max(...groups.map((g) => g.length));
    for (let i = 0; i < maxLen; i++) {
      for (const g of groups) if (i < g.length) bundle.push(g[i]);
    }
    const datasets: any[] = [];
    bundle.forEach((vals, i) => {
      datasets.push({
        label: `AGN ${i + 1}`,
        data: toPoints(vals),
        borderColor: palette[i % palette.length],
        borderWidth: 1.8,
        pointRadius: 0,
        fill: false,
        tension: 0,
      });
    });
    spectraOutliers.forEach((vals, i) => {
      datasets.push({
        label: `AGN bright ${i + 1}`,
        data: toPoints(vals),
        borderColor: palette[outlierColorIndex[i]],
        borderWidth: 1.6,
        pointRadius: 0,
        fill: false,
        tension: 0,
      });
    });
    datasets.push({
      label: 'CTA sensitivity',
      data: toPoints(ctaSensitivity),
      borderColor: '#cc0000',
      borderWidth: 10,
      pointRadius: 0,
      fill: false,
      tension: 0,
      borderJoinStyle: 'round',
    });
    const chart = new Chart(canvasRef.current as HTMLCanvasElement, {
      type: 'line',
      data: { datasets },
      options: {
        animation: false,
        responsive: false,
        devicePixelRatio: 1,
        events: [],
        layout: { padding: { left: 145, top: 42, right: 0, bottom: 88 } },
        plugins: { legend: { display: false }, tooltip: { enabled: false } },
        scales: {
          x: { type: 'linear', min: xLimits[0], max: xLimits[1], display: false },
          y: { type: 'logarithmic', min: Math.pow(10, yLimitExponents[0]), max: Math.pow(10, yLimitExponents[1]), display: false },
        },
      },
      plugins: [decorPlugin],
    });
    return () => chart.destroy();
  }, []);
  return (
    <div style={{ position: 'absolute', left: 0, top: 0, width: 1191, height: 883, background: BG }}>
      <canvas ref={canvasRef} width={1191} height={883} />
    </div>
  );
}
